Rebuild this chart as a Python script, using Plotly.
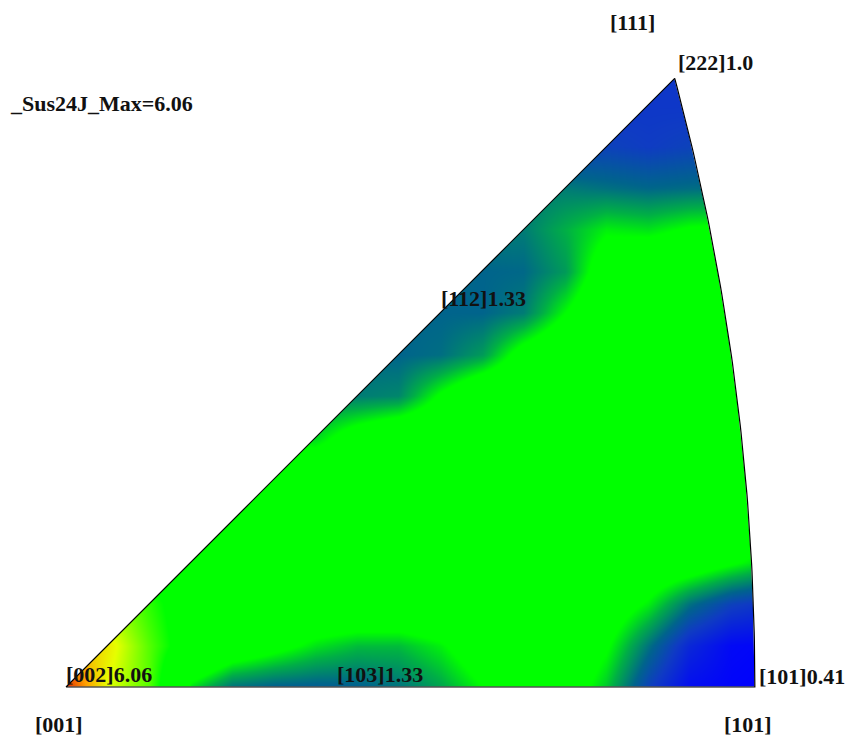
import numpy as np
import plotly.graph_objects as go

# ---- data: intensity grid (stereographic coords) ----
grid_x = [round(0.025 * i, 3) for i in range(18)]   # 0 .. 0.425
grid_y = [round(0.025 * j, 3) for j in range(16)]   # 0 .. 0.375

density = [
    [6.06, 4.3, 3.6, 1.9, 1.4, 1.3, 1.28, 1.3, 1.4, 1.65, 2.0, 2.4, 2.3, 1.8, 1.05, 0.55, 0.45, 0.41],
    [5.0, 4.5, 3.6, 2.8, 2.4, 2.15, 1.9, 1.75, 1.75, 1.95, 2.3, 2.5, 2.4, 2.05, 1.4, 0.8, 0.5, 0.45],
    [4.0, 4.0, 3.4, 2.8, 2.5, 2.5, 2.5, 2.5, 2.5, 2.5, 2.5, 2.5, 2.5, 2.3, 1.95, 1.4, 1.05, 0.9],
    [3.0, 3.0, 3.0, 2.8, 2.5, 2.5, 2.5, 2.5, 2.5, 2.5, 2.5, 2.5, 2.5, 2.5, 2.4, 2.3, 2.05, 1.8],
    [2.5, 2.5, 2.5, 2.5, 2.5, 2.5, 2.5, 2.5, 2.5, 2.5, 2.5, 2.5, 2.5, 2.5, 2.5, 2.5, 2.5, 2.5],
    [2.5, 2.5, 2.5, 2.5, 2.5, 2.5, 2.5, 2.5, 2.5, 2.5, 2.5, 2.5, 2.5, 2.5, 2.5, 2.5, 2.5, 2.5],
    [2.5, 2.5, 2.5, 2.5, 2.5, 1.9, 1.85, 2.25, 2.5, 2.5, 2.5, 2.5, 2.5, 2.5, 2.5, 2.5, 2.5, 2.5],
    [1.8, 1.8, 1.8, 1.8, 1.8, 1.6, 1.5, 1.45, 1.5, 2.05, 2.5, 2.5, 2.5, 2.5, 2.5, 2.5, 2.5, 2.5],
    [1.4, 1.4, 1.4, 1.4, 1.4, 1.4, 1.4, 1.35, 1.33, 1.38, 1.6, 2.2, 2.5, 2.5, 2.5, 2.5, 2.5, 2.5],
    [1.35, 1.35, 1.35, 1.35, 1.35, 1.35, 1.35, 1.33, 1.33, 1.33, 1.33, 1.45, 2.0, 2.5, 2.5, 2.5, 2.5, 2.5],
    [1.35, 1.35, 1.35, 1.35, 1.35, 1.35, 1.35, 1.35, 1.35, 1.35, 1.33, 1.35, 1.6, 2.3, 2.5, 2.5, 2.5, 2.5],
    [1.45, 1.45, 1.45, 1.45, 1.45, 1.45, 1.45, 1.45, 1.45, 1.45, 1.45, 1.45, 1.7, 1.95, 1.9, 2.05, 2.1, 2.1],
    [1.45, 1.45, 1.45, 1.45, 1.45, 1.45, 1.45, 1.45, 1.45, 1.45, 1.45, 1.45, 1.45, 1.4, 1.35, 1.38, 1.4, 1.4],
    [1.05, 1.05, 1.05, 1.05, 1.05, 1.05, 1.05, 1.05, 1.05, 1.05, 1.05, 1.05, 1.05, 1.05, 1.0, 1.05, 1.05, 1.05],
    [0.95, 0.95, 0.95, 0.95, 0.95, 0.95, 0.95, 0.95, 0.95, 0.95, 0.95, 0.95, 0.95, 0.95, 0.95, 0.95, 0.95, 0.95],
    [0.95, 0.95, 0.95, 0.95, 0.95, 0.95, 0.95, 0.95, 0.95, 0.95, 0.95, 0.95, 0.95, 0.95, 0.95, 0.95, 0.95, 0.95],
]

z_min, z_max = 0.41, 6.06
scale_values = [0.41, 1.0, 1.33, 1.7, 2.0, 3.2, 4.3, 5.2, 6.06]
scale_colors = ["rgb(0,0,255)", "rgb(15,60,195)", "rgb(0,100,140)", "rgb(0,175,70)",
                "rgb(0,255,0)", "rgb(0,255,0)", "rgb(230,255,0)", "rgb(255,160,0)", "rgb(225,40,0)"]

labels = ["[111]", "[222]1.0", "_Sus24J_Max=6.06", "[112]1.33", "[002]6.06",
          "[103]1.33", "[101]0.41", "[001]", "[101]"]

# ---- geometry of the cubic standard triangle (stereographic projection) ----
theta = np.arccos(1 / np.sqrt(3))          # [111] polar angle
r = np.tan(theta / 2)
ax_ = r / np.sqrt(2)
ay_ = r / np.sqrt(2)
yy = np.linspace(ay_, 0, 80)
arc_x = np.sqrt(2 - yy ** 2) - 1           # great circle [111]-[101]
arc_y = yy

W, H = 845, 738
S = 1663.0
x0p, y0p = 66, 687
xr = [-x0p / S, (W - x0p) / S]
yr = [(y0p - H) / S, y0p / S]

cs = [[(v - z_min) / (z_max - z_min), c] for v, c in zip(scale_values, scale_colors)]

fig = go.Figure()
fig.add_trace(go.Heatmap(x=grid_x, y=grid_y, z=density, zmin=z_min, zmax=z_max,
                         colorscale=cs, zsmooth="best", showscale=False, hoverinfo="skip"))

white = dict(mode="lines", fill="toself", fillcolor="white", line=dict(width=1, color="white"),
             hoverinfo="skip", showlegend=False)
big = 0.2
# above the diagonal (overlaps the right mask above the apex)
fig.add_trace(go.Scatter(x=[0, ax_, ax_ + 0.05, ax_ + 0.05, -big, -big, 0],
                         y=[0, ay_, ay_, 0.6, 0.6, 0, 0], **white))
# below the bottom edge
fig.add_trace(go.Scatter(x=[-big, 0.7, 0.7, -big, -big], y=[0, 0, -big, -big, 0], **white))
# right of the arc
fig.add_trace(go.Scatter(x=list(arc_x) + [0.7, 0.7, ax_], y=list(arc_y) + [0, 0.6, 0.6], **white))

# outline
ox = [0, ax_] + list(arc_x) + [0]
oy = [0, ay_] + list(arc_y) + [0]
fig.add_trace(go.Scatter(x=ox, y=oy, mode="lines", line=dict(color="black", width=1.2),
                         hoverinfo="skip", showlegend=False))

label_pos = [(608, 22), (676, 62), (8, 104), (439, 298), (64, 674),
             (335, 674), (757, 676), (33, 724), (722, 724)]
for txt, (px, py) in zip(labels, label_pos):
    fig.add_annotation(x=px / W, y=1 - py / H, xref="paper", yref="paper", text="<b>" + txt + "</b>",
                       showarrow=False, xanchor="left", yanchor="middle",
                       font=dict(family="Liberation Serif", size=22, color="#111"))

fig.update_layout(width=W, height=H, margin=dict(l=0, r=0, t=0, b=0),
                  paper_bgcolor="white", plot_bgcolor="white", showlegend=False,
                  xaxis=dict(range=xr, visible=False, showgrid=False, zeroline=False, fixedrange=True),
                  yaxis=dict(range=yr, visible=False, showgrid=False, zeroline=False, fixedrange=True))
fig.write_html("out.html", config={"displayModeBar": False},
               post_script="document.body.style.margin='0';")
